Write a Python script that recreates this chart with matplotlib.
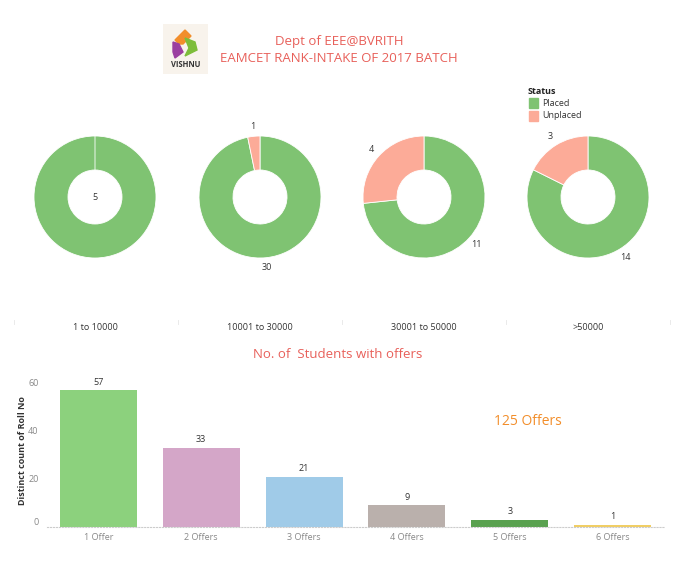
import math
import matplotlib.pyplot as plt
from matplotlib.patches import Rectangle, Polygon

plt.rcParams['font.family'] = ['Open Sans', 'DejaVu Sans']

# donut data
rank_groups = ["1 to 10000", "10001 to 30000", "30001 to 50000", ">50000"]
placed = [5, 30, 11, 14]
unplaced = [0, 1, 4, 3]
status = ["Placed", "Unplaced"]
status_colors = ["#7fc372", "#fcab98"]

# bar data
offer_labels = ["1 Offer", "2 Offers", "3 Offers", "4 Offers", "5 Offers", "6 Offers"]
offer_counts = [57, 33, 21, 9, 3, 1]
offer_colors = ["#8cd17d", "#d4a6c8", "#a0cbe8", "#bab0ac", "#59a14f", "#f1ce63"]
total_offers = 125

W, H = 693, 569
fig = plt.figure(figsize=(W / 100, H / 100), dpi=100)

def px(x, y):
    return x / W, 1 - y / H

title_col = "#e8605a"
fig.text(*px(339, 42), "Dept of EEE@BVRITH", ha="center", va="center",
         fontsize=9.5, color=title_col)
fig.text(*px(339, 58), "EAMCET RANK-INTAKE OF 2017 BATCH", ha="center", va="center",
         fontsize=9.5, color=title_col)

# rough logo
lax = fig.add_axes([163 / W, 1 - 74 / H, 45 / W, 50 / H])
lax.set_xlim(0, 45)
lax.set_ylim(50, 0)
lax.axis("off")
lax.add_patch(Rectangle((0, 0), 45, 50, color="#f8f3ec"))
lax.add_patch(Polygon([(12, 16), (22, 6), (28, 12), (20, 20), (16, 20)], color="#f28e2b"))
lax.add_patch(Polygon([(10, 18), (16, 20), (20, 28), (12, 34), (10, 28)], color="#9b3fa0"))
lax.add_patch(Polygon([(22, 14), (32, 18), (34, 26), (22, 32), (26, 24)], color="#7dbd3a"))
lax.text(22.5, 41, "VISHNU", ha="center", va="center", fontsize=5.5, fontweight="bold",
         color="#333333")

# donuts
R_px, hole_px, lab_px = 61, 27, 71
centers = [95, 260, 424, 588]
cy = 197
for i, grp in enumerate(rank_groups):
    size = 170
    ax = fig.add_axes([(centers[i] - size / 2) / W, 1 - (cy + size / 2) / H, size / W, size / H])
    vals = [placed[i], unplaced[i]]
    ax.pie(vals, colors=status_colors, radius=R_px, startangle=90, counterclock=False,
           wedgeprops=dict(width=R_px - hole_px, linewidth=0.6, edgecolor="white"))
    ax.set_xlim(-size / 2, size / 2)
    ax.set_ylim(-size / 2, size / 2)
    ax.set_aspect("equal")
    ax.axis("off")
    tot = sum(vals)
    start = 0
    for v in vals:
        if v == 0:
            continue
        if v == tot:
            ax.text(0, 0, str(v), ha="center", va="center", fontsize=6.5, color="#333333")
        else:
            mid = math.radians((start + v / 2) / tot * 360)
            ax.text(lab_px * math.sin(mid), lab_px * math.cos(mid), str(v), ha="center",
                    va="center", fontsize=6.5, color="#333333")
        start += v
    fig.text(*px(centers[i], 327), grp, ha="center", va="center", fontsize=6.5, color="#333333")

for sx in [14, 178, 342, 506, 670]:
    fig.add_artist(plt.Line2D([sx / W] * 2, [1 - 320 / H, 1 - 324 / H], color="#e6e6e6", lw=0.6))

# legend
fig.text(*px(528, 91), "Status", ha="left", va="center", fontsize=6.5, fontweight="bold",
         color="#222222")
for j, s in enumerate(status):
    yy = 103 + j * 13
    fig.add_artist(Rectangle(px(529, yy + 5), 9 / W, 10 / H, color=status_colors[j]))
    fig.text(*px(542, yy), s, ha="left", va="center", fontsize=6.5, color="#333333")

# bar chart
fig.text(*px(338, 355), "No. of  Students with offers", ha="center", va="center",
         fontsize=9.5, color=title_col)
bax = fig.add_axes([47 / W, 1 - 527 / H, (664 - 47) / W, (527 - 375) / H])
x = list(range(len(offer_labels)))
bars = bax.bar(x, offer_counts, width=0.75, color=offer_colors)
for xi, v in zip(x, offer_counts):
    bax.text(xi, v + 1.5, str(v), ha="center", va="bottom", fontsize=6.5, color="#333333")
bax.set_xlim(-0.5, len(offer_labels) - 0.5)
bax.set_ylim(0, 152 / 2.4)
bax.set_yticks([0, 20, 40, 60])
bax.set_xticks(x)
bax.set_xticklabels(offer_labels)
bax.tick_params(axis="both", labelsize=6.5, colors="#888888", length=0, pad=4)
bax.tick_params(axis="y", pad=6)
bax.get_yticklabels()[0].set_verticalalignment("bottom")
for sp in ["top", "right", "left"]:
    bax.spines[sp].set_visible(False)
bax.spines["bottom"].set_color("#cccccc")
bax.spines["bottom"].set_linestyle(":")
bax.set_ylabel("Distinct count of Roll No", fontsize=6.5, fontweight="bold", color="#333333",
               labelpad=1)
bax.text(4.18, 44, f"{total_offers} Offers", ha="center", va="center", fontsize=10,
         color="#f28e2b")

fig.savefig("out.png", dpi=100)
